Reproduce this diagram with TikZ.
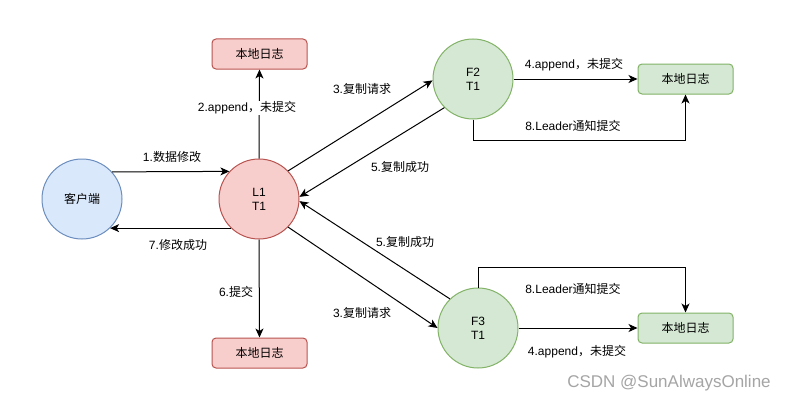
\documentclass[tikz,border=0pt]{standalone}
\usepackage{fontspec}
\setmainfont{Liberation Sans}
\newfontfamily\cjk{Noto Sans CJK SC}
\newcommand{\zh}[1]{{\cjk #1}}
\usetikzlibrary{arrows.meta}
\definecolor{bluefill}{HTML}{DAE8FC}
\definecolor{bluedraw}{HTML}{6C8EBF}
\definecolor{redfill}{HTML}{F8CECC}
\definecolor{reddraw}{HTML}{B85450}
\definecolor{greenfill}{HTML}{D5E8D4}
\definecolor{greendraw}{HTML}{82B366}
\definecolor{wmgray}{RGB}{165,165,165}
\tikzset{
  base/.style={font=\fontsize{12}{14}\selectfont, align=center, inner sep=0pt},
  clientnode/.style={base, circle, minimum size=80pt, fill=bluefill, draw=bluedraw, line width=1pt},
  leadernode/.style={base, circle, minimum size=80pt, fill=redfill, draw=reddraw, line width=1pt},
  follownode/.style={base, circle, minimum size=80pt, fill=greenfill, draw=greendraw, line width=1pt},
  redlog/.style={base, rectangle, rounded corners=4pt, minimum width=95pt, minimum height=30pt, fill=redfill, draw=reddraw, line width=1pt},
  greenlog/.style={base, rectangle, rounded corners=4pt, minimum width=95pt, minimum height=30pt, fill=greenfill, draw=greendraw, line width=1pt},
  arr/.style={line width=1pt, -{Stealth[length=9pt,width=8pt,inset=2.5pt]}},
  lbl/.style={base, inner sep=1pt},
}
\begin{document}
\begin{tikzpicture}[x=1pt,y=-1pt]
\useasboundingbox[fill=white] (0,0) rectangle (786,404);

\node[clientnode] (client) at (82,199) {\zh{客户端}};
\node[leadernode] (L1) at (259,199) {L1\\T1};
\node[follownode] (F2) at (473,79) {F2\\T1};
\node[follownode] (F3) at (478,328) {F3\\T1};
\node[redlog] (logT) at (259.5,54) {\zh{本地日志}};
\node[redlog] (logB) at (259.5,353) {\zh{本地日志}};
\node[greenlog] (log2) at (685.5,79) {\zh{本地日志}};
\node[greenlog] (log3) at (685.5,328) {\zh{本地日志}};

% client <-> leader
\draw[arr] (client.42.5) -- (L1.137.5);
\node[lbl] (l1) at (172,157) {1.\zh{数据修改}};
\draw[arr] (L1.226.5) -- (client.-46.5);
\node[lbl] (l7) at (178,245) {7.\zh{修改成功}};

% leader <-> local logs
\draw[arr] (L1.north) -- (logT.south);
\node[lbl, fill=white] (l2) at (247,108) {2.append\zh{，未提交}};
\draw[arr] (L1.south) -- (logB.north);
\node[lbl] (l6) at (236,292) {6.\zh{提交}};

% leader <-> F2
\draw[arr] (L1.44) -- (F2.182);
\node[lbl] (l3a) at (362,89) {3.\zh{复制请求}};
\draw[arr] (F2.225) -- (L1.3);
\node[lbl] (l5a) at (400,167) {5.\zh{复制成功}};

% leader <-> F3
\draw[arr] (F3.134) -- (L1.-3);
\node[lbl] (l5b) at (405,242) {5.\zh{复制成功}};
\draw[arr] (L1.-44) -- (F3.180);
\node[lbl] (l3b) at (362,313) {3.\zh{复制请求}};

% F2 logs
\draw[arr] (F2.east) -- (log2.west);
\node[lbl] (l4a) at (574,65) {4.append\zh{，未提交}};
\draw[arr] (F2.south) -- ++(0,21) -| (log2.south);
\node[lbl] (l8a) at (573,126) {8.Leader\zh{通知提交}};

% F3 logs
\draw[arr] (F3.east) -- (log3.west);
\node[lbl] (l4b) at (577,352) {4.append\zh{，未提交}};
\draw[arr] (F3.north) -- ++(0,-20) -| (log3.north);
\node[lbl] (l8b) at (573,289) {8.Leader\zh{通知提交}};

\node[base, text=wmgray, font=\fontsize{17}{20}\selectfont] (wm) at (669,383) {CSDN @SunAlwaysOnline};
\end{tikzpicture}
\end{document}
